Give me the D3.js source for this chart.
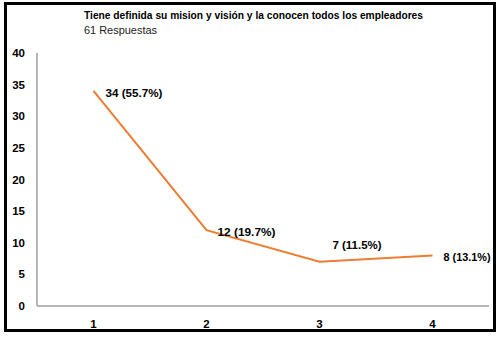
<!DOCTYPE html>
<html>
<head>
<meta charset="utf-8">
<script src="https://cdn.jsdelivr.net/npm/d3@7"></script>
<style>
  body { margin: 0; background: #fff; }
  text { font-family: "Liberation Sans", Arial, sans-serif; }
</style>
</head>
<body>
<script>
// data
var categories = ["1", "2", "3", "4"];
var counts = [34, 12, 7, 8];
var pointLabels = ["34 (55.7%)", "12 (19.7%)", "7 (11.5%)", "8 (13.1%)"];
var yTicks = [0, 5, 10, 15, 20, 25, 30, 35, 40];
var titleText = "Tiene definida su mision y visión y la conocen  todos  los empleadores";
var subtitleText = "61 Respuestas";

var w = 500, h = 337;

var svg = d3.select("body").append("svg")
    .attr("width", w)
    .attr("height", h);

svg.append("rect")
    .attr("width", w).attr("height", h)
    .attr("fill", "#fff");

// outer frame
svg.append("rect")
    .attr("x", 5.5).attr("y", 3.5)
    .attr("width", 489).attr("height", 327)
    .attr("fill", "none")
    .attr("stroke", "#000")
    .attr("stroke-width", 3);

// title
svg.append("text")
    .attr("x", 84).attr("y", 19)
    .attr("font-size", 11.5)
    .attr("font-weight", "bold")
    .attr("textLength", 339)
    .attr("lengthAdjust", "spacingAndGlyphs")
    .text(titleText);

svg.append("text")
    .attr("x", 84).attr("y", 34)
    .attr("font-size", 11)
    .attr("fill", "#222")
    .attr("textLength", 73)
    .attr("lengthAdjust", "spacingAndGlyphs")
    .text(subtitleText);

var x = d3.scaleBand()
    .domain(categories)
    .range([37, 489]);

var y = d3.scaleLinear()
    .domain([0, 40])
    .range([306, 53]);

// axis lines
svg.append("line")
    .attr("x1", 37).attr("x2", 37)
    .attr("y1", y(40)).attr("y2", y(0))
    .attr("stroke", "#b5b5b5").attr("stroke-width", 2);
svg.append("line")
    .attr("x1", 37).attr("x2", 489)
    .attr("y1", y(0)).attr("y2", y(0))
    .attr("stroke", "#b5b5b5").attr("stroke-width", 2);

// y tick labels
svg.selectAll(".ytick")
    .data(yTicks)
    .enter().append("text")
    .attr("class", "ytick")
    .attr("x", 25)
    .attr("y", function(d) { return y(d); })
    .attr("dy", "0.35em")
    .attr("text-anchor", "end")
    .attr("font-size", 11.5)
    .attr("font-weight", "bold")
    .text(function(d) { return d; });

// x tick labels
svg.selectAll(".xtick")
    .data(categories)
    .enter().append("text")
    .attr("class", "xtick")
    .attr("x", function(d) { return x(d) + x.bandwidth() / 2; })
    .attr("y", 324)
    .attr("dy", "0.35em")
    .attr("text-anchor", "middle")
    .attr("font-size", 11.5)
    .attr("font-weight", "bold")
    .text(function(d) { return d; });

var pts = categories.map(function(c, i) {
  return { cat: c, v: counts[i], label: pointLabels[i] };
});

var line = d3.line()
    .x(function(d) { return x(d.cat) + x.bandwidth() / 2; })
    .y(function(d) { return y(d.v); });

svg.append("path")
    .datum(pts)
    .attr("d", line)
    .attr("fill", "none")
    .attr("stroke", "#ed7d31")
    .attr("stroke-width", 2);

// data labels: right of point, except the 3rd which sits above
var offs = [[12, 2], [11, 2], [13, -17], [11, 2]];
var labelW = [57, 58, 49, 47];
svg.selectAll(".plabel")
    .data(pts)
    .enter().append("text")
    .attr("class", "plabel")
    .attr("x", function(d, i) { return x(d.cat) + x.bandwidth() / 2 + offs[i][0]; })
    .attr("y", function(d, i) { return y(d.v) + offs[i][1]; })
    .attr("dy", "0.35em")
    .attr("font-size", 11.5)
    .attr("font-weight", "bold")
    .attr("textLength", function(d, i) { return labelW[i]; })
    .attr("lengthAdjust", "spacingAndGlyphs")
    .text(function(d) { return d.label; });
</script>
</body>
</html>
